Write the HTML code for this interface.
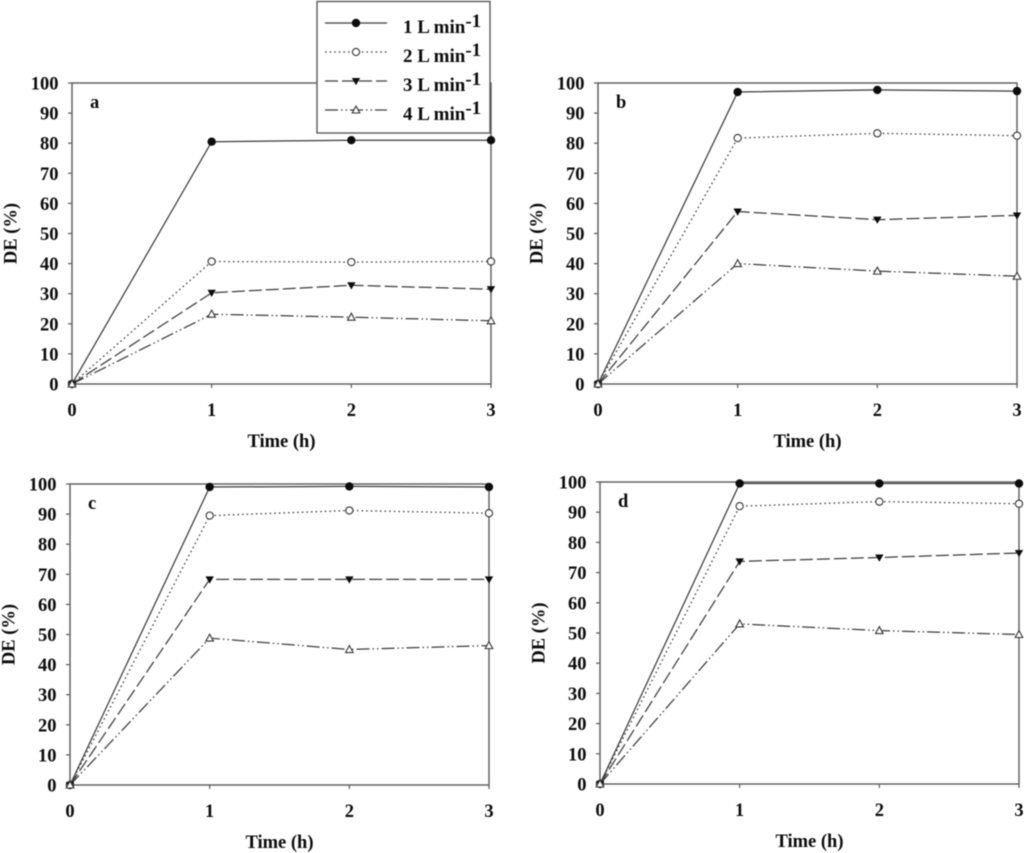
<!DOCTYPE html>
<html>
<head>
<meta charset="utf-8">
<title>DE versus time at four flow rates</title>
<style>
html,body{margin:0;padding:0;background:#fff;width:1024px;height:853px;overflow:hidden}
svg{display:block;filter:blur(0.4px)}
text{font-family:"Liberation Serif",serif;font-weight:bold;fill:#0c0c0c;font-size:18.5px}
.legend-text{font-size:19px}
</style>
</head>
<body>
<svg id="chart" xmlns="http://www.w3.org/2000/svg" width="1024" height="853" viewBox="0 0 1024 853"></svg>
<script>
// Data
const timeHours = [0, 1, 2, 3];
const xTickLabels = ['0', '1', '2', '3'];
const yTickLabels = ['0', '10', '20', '30', '40', '50', '60', '70', '80', '90', '100'];
const seriesNames = ['1 L min', '2 L min', '3 L min', '4 L min'];

const panelA1 = [0, 80.5, 81, 81];
const panelA2 = [0, 40.7, 40.5, 40.7];
const panelA3 = [0, 30.3, 32.8, 31.5];
const panelA4 = [0, 23.2, 22.2, 21];

const panelB1 = [0, 97, 97.7, 97.3];
const panelB2 = [0, 81.7, 83.3, 82.5];
const panelB3 = [0, 57.3, 54.6, 56];
const panelB4 = [0, 40, 37.5, 35.8];

const panelC1 = [0, 99, 99.2, 99];
const panelC2 = [0, 89.5, 91.2, 90.3];
const panelC3 = [0, 68.3, 68.3, 68.3];
const panelC4 = [0, 48.8, 45, 46.3];

const panelD1 = [0, 99.5, 99.5, 99.5];
const panelD2 = [0, 92, 93.5, 92.8];
const panelD3 = [0, 73.7, 75, 76.5];
const panelD4 = [0, 53, 50.8, 49.5];

const NS = 'http://www.w3.org/2000/svg';
const svg = document.getElementById('chart');
const AXIS = '#5a5a5a';
const LINE = '#3c3c3c';
const DASHES = ['', '1.6 3', '13 4', '13 3 1.5 3 1.5 3'];

function make(tag, attrs, parent) {
  const el = document.createElementNS(NS, tag);
  for (const k in attrs) el.setAttribute(k, attrs[k]);
  parent.appendChild(el);
  return el;
}

function drawMarker(parent, kind, x, y) {
  let m;
  if (kind === 0) {
    m = make('circle', {cx: x, cy: y, r: 4.2, fill: '#0c0c0c'}, parent);
  } else if (kind === 1) {
    m = make('circle', {cx: x, cy: y, r: 3.6, fill: '#fff', stroke: '#333', 'stroke-width': 1.1}, parent);
  } else if (kind === 2) {
    m = make('path', {d: `M${x - 4.2} ${y - 3}H${x + 4.2}L${x} ${y + 4.2}Z`, fill: '#0c0c0c'}, parent);
  } else {
    m = make('path', {d: `M${x - 3.8} ${y + 3}H${x + 3.8}L${x} ${y - 4}Z`, fill: '#fff', stroke: '#333', 'stroke-width': 1.1}, parent);
  }
  
  
}

function drawPanel(p) {
  const sx = t => p.x0 + (t - 0) / 3 * (p.x3 - p.x0);
  const sy = v => p.y0 - v / 100 * (p.y0 - p.y100);

  const g = make('g', {}, svg);
  
  

  const frame = make('rect', {x: p.x0, y: sy(100), width: p.x3 - p.x0, height: p.y0 - sy(100), fill: 'none', stroke: AXIS, 'stroke-width': 1.4}, g);
  
  

  yTickLabels.forEach(label => {
    const v = Number(label);
    const tick = make('line', {x1: p.x0 - 4, x2: p.x0, y1: sy(v), y2: sy(v), stroke: AXIS, 'stroke-width': 1.2}, g);
    
    
    const t = make('text', {x: p.x0 - 13.5, y: sy(v) + 6.5, 'text-anchor': 'end'}, g);
    t.textContent = label;
    
    
  });

  xTickLabels.forEach(label => {
    const v = Number(label);
    const tick = make('line', {x1: sx(v), x2: sx(v), y1: p.y0, y2: p.y0 + 4, stroke: AXIS, 'stroke-width': 1.2}, g);
    
    
    const t = make('text', {x: sx(v), y: p.y0 + 32, 'text-anchor': 'middle'}, g);
    t.textContent = label;
    
    
  });

  const xTitle = make('text', {x: (p.x0 + p.x3) / 2, y: p.y0 + 63, 'text-anchor': 'middle'}, g);
  xTitle.textContent = 'Time (h)';
  
  

  const yTitle = make('text', {transform: `translate(${p.x0 - 55.5} ${(p.y0 + p.y100) / 2}) rotate(-90)`, 'text-anchor': 'middle'}, g);
  yTitle.textContent = 'DE (%)';
  
  

  const letter = make('text', {x: p.x0 + 18, y: p.y100 + 25}, g);
  letter.textContent = p.letter;
  
  

  p.series.forEach((vals, s) => {
    const pts = vals.map((v, i) => sx(timeHours[i]).toFixed(1) + ',' + sy(v).toFixed(1)).join(' ');
    const line = make('polyline', {points: pts, fill: 'none', stroke: LINE, 'stroke-width': 1.25, 'stroke-dasharray': DASHES[s]}, g);
    
    
  });
  [0, 1, 2, 3].forEach(s => {
    p.series[s].forEach((v, i) => drawMarker(g, s, sx(timeHours[i]), sy(v)));
  });
}

const panels = [
  {letter: 'a', x0: 72, x3: 491, y0: 384, y100: 83, series: [panelA1, panelA2, panelA3, panelA4]},
  {letter: 'b', x0: 598, x3: 1017, y0: 384, y100: 83, series: [panelB1, panelB2, panelB3, panelB4]},
  {letter: 'c', x0: 70, x3: 489, y0: 785, y100: 484, series: [panelC1, panelC2, panelC3, panelC4]},
  {letter: 'd', x0: 600, x3: 1019, y0: 784, y100: 482, series: [panelD1, panelD2, panelD3, panelD4]}
];
panels.forEach(drawPanel);

// Legend
const legend = make('g', {}, svg);


const legendBox = make('rect', {x: 317, y: 1.5, width: 173, height: 131.5, fill: '#fff', stroke: AXIS, 'stroke-width': 1.4}, legend);



seriesNames.forEach((name, s) => {
  const y = 23 + s * 29;
  const entry = make('g', {}, legend);
  
  
  make('line', {x1: 325, x2: 387, y1: y, y2: y, stroke: LINE, 'stroke-width': 1.2, 'stroke-dasharray': DASHES[s]}, entry);
  drawMarker(entry, s, 356, y);
  const t = make('text', {x: 403, y: y + 10, class: 'legend-text'}, entry);
  t.textContent = name;
  
  
  const sup = make('tspan', {dy: -6}, t);
  sup.textContent = '-1';
  
  
});
</script>
</body>
</html>
